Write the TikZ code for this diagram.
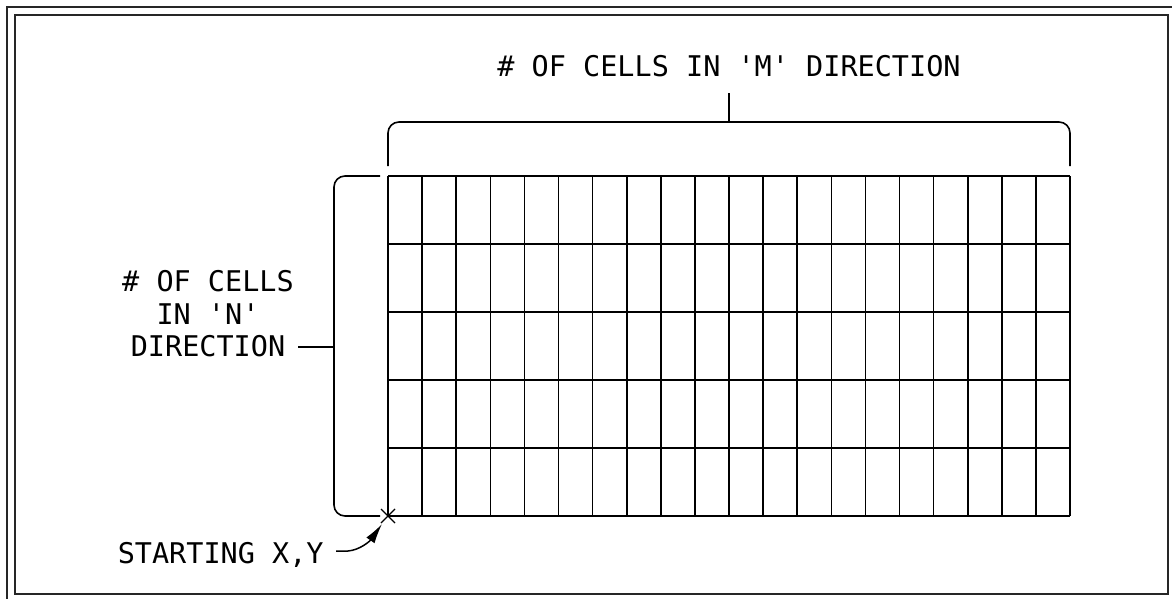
\documentclass[tikz,border=0pt]{standalone}
\usepackage{fontspec}
\setmonofont{DejaVu Sans Mono}
\usetikzlibrary{arrows.meta}
\begin{document}
\begin{tikzpicture}[x=1pt,y=-1pt,line width=1.5pt,
  lbl/.style={font=\ttfamily\fontsize{28.5}{32.5}\selectfont, inner sep=0pt, align=center},
  frame/.style={line width=2pt, draw=black!85},
  gridline/.style={line width=1.6pt},
  brace/.style={line width=1.6pt, rounded corners=11pt},
  leader/.style={line width=1.5pt, -{Latex[length=20pt,width=10pt]}}]
\useasboundingbox (0,0) rectangle (1172,599);
\clip (0,0) rectangle (1172,599);
% frames
\draw[frame] (7,7) rectangle (1177,604);
\draw[frame] (15,15) rectangle (1168,594);
% grid
\foreach \i in {0,...,20} {
  \draw[gridline] (388+\i*34.1,176) -- (388+\i*34.1,516);
}
\foreach \j in {0,...,5} {
  \draw[gridline] (388,176+\j*68) -- (1070,176+\j*68);
}
% top brace
\coordinate (tm) at (729,122);
\coordinate (tmtop) at (729,93);
\draw[brace] (388,166) |- (tm) -| (1070,166);
\draw[line width=1.6pt] (tm) -- (tmtop);
% left brace
\coordinate (lm) at (334,347);
\coordinate (lmend) at (298,347);
\draw[brace] (380,176) -| (lm) |- (380,516);
\draw[line width=1.6pt] (lm) -- (lmend);
% labels
\node[lbl, anchor=base] (mlabel) at (729,77) {\# OF CELLS IN \textquotesingle M\textquotesingle\ DIRECTION};
\node[lbl] (nlabel) at (208,314) {\# OF CELLS\\IN \textquotesingle N\textquotesingle\\DIRECTION};
\node[lbl, anchor=base west] (start) at (117,563) {STARTING X,Y};
% start mark
\coordinate (origin) at (388,516);
\draw[line width=1.2pt] ([shift={(-7,-7)}]origin) -- ([shift={(7,7)}]origin)
  ([shift={(-7,7)}]origin) -- ([shift={(7,-7)}]origin);
\coordinate (atail) at (336,551);
\coordinate (atip) at (382,524);
\draw[leader] (atail) -- ++(12,0) .. controls (360,550) and (370,541) .. (atip);
\end{tikzpicture}
\end{document}
